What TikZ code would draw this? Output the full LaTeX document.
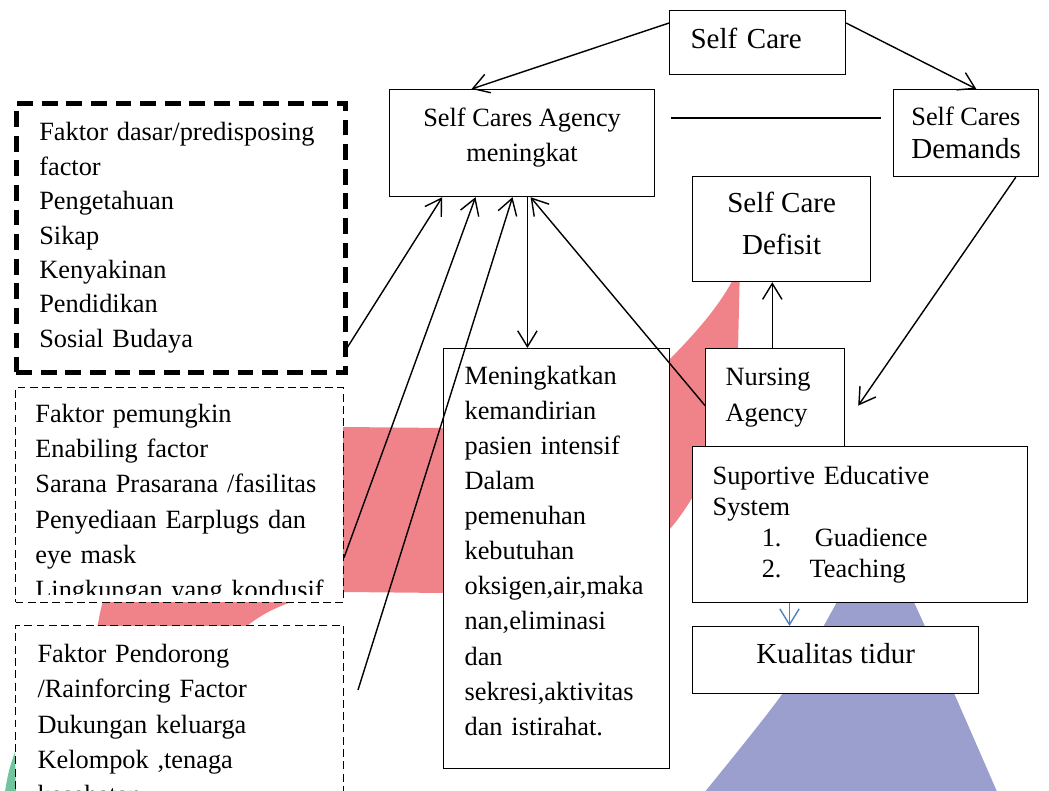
\documentclass[tikz,border=0pt]{standalone}
\usepackage{fontspec}
\setmainfont{Liberation Serif}
\usepackage{tikz}
\usetikzlibrary{positioning,calc,arrows.meta}

\definecolor{swoosh}{RGB}{240,131,138}
\definecolor{cone}{RGB}{154,159,205}
\definecolor{leaf}{RGB}{112,196,158}
\definecolor{bluearr}{RGB}{79,129,189}

\tikzset{
  box/.style={draw, fill=white, line width=0.7pt, anchor=north west, inner ysep=0pt, font=\fontsize{15}{20}\selectfont},
  bigdash/.style={box, line width=2.6pt, dash pattern=on 9pt off 5pt},
  thindash/.style={box, line width=0.6pt, dash pattern=on 4.5pt off 2.5pt},
  arr/.style={line width=0.8pt, -{Straight Barb[length=9pt,width=11pt]}},
}

\begin{document}
\begin{tikzpicture}[x=0.02cm,y=-0.02cm]
  \useasboundingbox (0,0) rectangle (1049,791);

  % watermark pieces behind the boxes
  \fill[swoosh] (95,650) .. controls (105,500) and (230,427) .. (345,427) -- (444,428)
    .. controls (560,425) and (640,390) .. (672,357) .. controls (700,328) and (725,300) .. (740,265)
    -- (738,350) .. controls (737,420) and (700,495) .. (669,530)
    .. controls (620,580) and (500,592) .. (444,593) -- (345,592)
    .. controls (300,594) and (250,612) .. (225,650) -- cycle;
  \fill[cone] plot[smooth] coordinates {(690,810) (783,693) (837,602) (872,535) (908,590) (957,700) (1005,810)} -- cycle;
  \fill[leaf] (15,752) .. controls (9,768) and (6,782) .. (4,800) -- (16,800) -- cycle;

  \node[box, minimum width=3.52cm, minimum height=1.28cm, text width=2.68cm, inner xsep=0.42cm, align=left, font=\fontsize{16.5}{20}\selectfont] (selfcare) at (669,10) {Self Care\rule[-0.16cm]{0pt}{0pt}};
  \node[box, minimum width=5.30cm, minimum height=2.14cm, align=center] (agency) at (389,89) {Self Cares Agency\\meningkat\rule[-0.34cm]{0pt}{0pt}};
  \node[box, minimum width=2.90cm, minimum height=1.74cm, align=left, font=\fontsize{15}{19}\selectfont] (demands) at (893,89) {Self Cares\\{\fontsize{16.5}{19}\selectfont Demands}};
  \node[box, minimum width=3.56cm, minimum height=2.10cm, align=center, font=\fontsize{16.5}{24}\selectfont] (defisit) at (692,176) {Self Care\\Defisit\rule[-0.24cm]{0pt}{0pt}};
  \node[box, minimum width=2.78cm, minimum height=1.96cm, text width=1.98cm, inner xsep=0.40cm, align=left, font=\fontsize{15}{21}\selectfont] (nursing) at (705,348) {Nursing\\Agency};
  \node[box, minimum width=6.70cm, minimum height=3.12cm, text width=5.90cm, inner xsep=0.40cm, align=left, font=\fontsize{15}{17.6}\selectfont] (support) at (692,446) {Suportive Educative\\System\\\hspace*{28pt}1.\hspace{19pt}Guadience\\\hspace*{28pt}2.\hspace{16pt}Teaching};
  \node[box, minimum width=5.72cm, minimum height=1.34cm, align=center, font=\fontsize{16.5}{20}\selectfont] (kualitas) at (692,626) {Kualitas tidur\rule[-0.28cm]{0pt}{0pt}};
  \node[box, minimum width=4.52cm, minimum height=8.40cm, text width=3.68cm, inner xsep=0.42cm, align=left] (kemandirian) at (443,348) {Meningkatkan\\kemandirian\\pasien intensif\\Dalam\\pemenuhan\\kebutuhan\\oksigen,air,maka\\nan,eliminasi\\dan\\sekresi,aktivitas\\dan istirahat.\rule[-0.32cm]{0pt}{0pt}};

  \node[bigdash, minimum width=6.58cm, minimum height=5.38cm, text width=5.66cm, inner xsep=0.46cm, align=left, font=\fontsize{15}{19.6}\selectfont] (dasar) at (14,101) {Faktor dasar/predisposing\\factor\\Pengetahuan\\Sikap\\Kenyakinan\\Pendidikan\\Sosial Budaya};
  \node[thindash, minimum width=6.56cm, minimum height=4.30cm] (pemungkin) at (15,387) {};
  \begin{scope}
    \clip (pemungkin.north west) rectangle ([yshift=0.18cm]pemungkin.south east);
    \node[anchor=north west, inner sep=0pt, text width=5.8cm, align=left, font=\fontsize{15}{20}\selectfont] (pemungkintxt) at ([shift={(20,17)}]pemungkin.north west) {Faktor pemungkin\\Enabiling factor\\Sarana Prasarana /fasilitas\\Penyediaan Earplugs dan\\eye mask\\Lingkungan yang kondusif};
  \end{scope}
  \node[thindash, text width=5.68cm, inner xsep=0.44cm, inner ysep=0.38cm, align=left] (pendorong) at (15,625) {Faktor Pendorong\\/Rainforcing Factor\\Dukungan keluarga\\Kelompok ,tenaga\\kesehatan};

  \coordinate (mid) at (0,118);
  \draw[arr] ($(selfcare.north west)!0.2!(selfcare.south west)$) -- ($(agency.north west)!0.31!(agency.north east)$);
  \draw[arr] ($(selfcare.north east)!0.2!(selfcare.south east)$) -- ($(demands.north west)!0.57!(demands.north east)$);
  \draw[line width=0.8pt, shorten <=0.32cm, shorten >=0.24cm] (agency.east |- mid) -- (demands.west |- mid);
  \draw[arr] ($(dasar.north east)!0.9!(dasar.south east)$) -- ($(agency.south west)!0.2!(agency.south east)$);
  \draw[arr] ($(pemungkin.north east)!0.79!(pemungkin.south east)$) -- ($(agency.south west)!0.325!(agency.south east)$);
  \draw[arr] ([shift={(14,65)}]pendorong.north east) -- ($(agency.south west)!0.464!(agency.south east)$);
  \coordinate (down) at ($(agency.south west)!0.52!(agency.south east)$);
  \draw[arr] (down) -- (down |- kemandirian.north);
  \draw[arr] ($(nursing.north west)!0.58!(nursing.south west)$) -- ($(agency.south west)!0.532!(agency.south east)$);
  \draw[arr] ($(demands.south west)!0.84!(demands.south east)$) -- ([shift={(13,8)}]nursing.east);
  \coordinate (up) at ($(nursing.north west)!0.48!(nursing.north east)$);
  \draw[arr] (up) -- (up |- defisit.south);
  \coordinate (sdown) at ($(support.south west)!0.29!(support.south east)$);
  \draw[arr, bluearr] (sdown) -- (sdown |- kualitas.north);
\end{tikzpicture}
\end{document}
